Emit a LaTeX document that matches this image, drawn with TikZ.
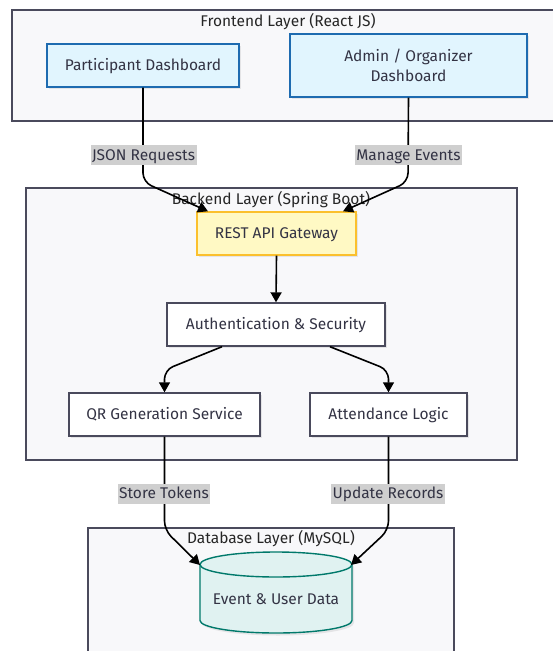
\documentclass[tikz,border=0pt]{standalone}
\usepackage{fontspec}
\setmainfont{Fira Sans}
\usetikzlibrary{arrows.meta,shadows}
\definecolor{grpfill}{HTML}{F8F8FA}
\definecolor{grpline}{HTML}{4A4A5C}
\definecolor{txt}{HTML}{333344}
\definecolor{bluefill}{HTML}{E1F5FE}
\definecolor{blueline}{HTML}{1E6BB0}
\definecolor{yelfill}{HTML}{FFF9C4}
\definecolor{yelline}{HTML}{FBC02D}
\definecolor{tealfill}{HTML}{E0F2F1}
\definecolor{tealline}{HTML}{00796B}
\definecolor{lblfill}{HTML}{CFCFCF}
\begin{document}
\begin{tikzpicture}[x=1pt,y=1pt,
  font=\fontsize{15.5}{20}\selectfont,
  grp/.style={draw=grpline, fill=grpfill, line width=1.5pt},
  grptitle/.style={text=black!85, inner sep=0pt, text height=12pt, text depth=1.5pt},
  box/.style={draw=grpline, fill=white, line width=1.4pt, inner sep=0pt, text=txt, align=center,
    drop shadow={shadow xshift=2pt, shadow yshift=-2pt, fill=black, opacity=0.08}},
  oneline/.style={text height=12pt, text depth=1.5pt},
  bluebox/.style={box, draw=blueline, fill=bluefill},
  yelbox/.style={box, draw=yelline, fill=yelfill},
  conn/.style={draw=black, line width=1.6pt, rounded corners=9pt, -{Triangle[length=10pt,width=11pt]}},
  lbl/.style={fill=lblfill, text=txt, inner xsep=1.5pt, inner ysep=0pt, text height=12pt, text depth=1.5pt, minimum height=20pt}
]
\useasboundingbox (0,0) rectangle (552,-651);

% group boxes
\draw[grp] (12,-10) rectangle (570,-121);
\node[grptitle] (fetitle) at (288,-21) {Frontend Layer (React JS)};
\draw[grp] (26,-188) rectangle (517,-460);
\draw[grp] (88,-528) rectangle (454,-670);

% nodes
\node[bluebox, oneline, minimum width=192pt, minimum height=43pt] (pd) at (143,-65.5) {Participant Dashboard};
\node[bluebox, minimum width=237pt, minimum height=63pt] (ad) at (408.5,-65.5) {\raisebox{-1pt}{Admin / Organizer}\\\raisebox{-1pt}{Dashboard}};
\node[yelbox, oneline, minimum width=159pt, minimum height=43pt] (rest) at (276.5,-233.5) {REST API Gateway};
\node[box, oneline, minimum width=218pt, minimum height=43pt] (auth) at (276,-324.5) {Authentication \& Security};
\node[box, oneline, minimum width=191pt, minimum height=43pt] (qr) at (164.5,-414.5) {QR Generation Service};
\node[box, oneline, minimum width=157pt, minimum height=43pt] (att) at (388.5,-414.5) {Attendance Logic};

% database cylinder
\fill[black, opacity=0.08] (202,-567) -- (202,-623) arc (180:360:76 and 12.5) -- (354,-567) arc (0:180:76 and 12.5) -- cycle;
\draw[tealline, fill=tealfill, line width=1.4pt] (200,-564.5) -- (200,-620.5) arc (180:360:76 and 12.5) -- (352,-564.5) arc (0:180:76 and 12.5) -- cycle;
\draw[tealline, line width=1.4pt] (200,-564.5) arc (180:360:76 and 12.5);
\node[text=txt, inner sep=0pt, oneline] (db) at (276,-599) {Event \& User Data};
\coordinate (dbl) at (200,-565);
\coordinate (dbr) at (351,-565);

% titles over lines
\node[grptitle] (betitle) at (271,-199) {Backend Layer (Spring Boot)};
\node[grptitle] (dbtitle) at (271,-538) {Database Layer (MySQL)};

% connectors
\draw[conn] (pd.south) -- (143,-182) -- ([xshift=-68.5pt]rest.north);
\draw[conn] (ad.south) -- (408,-182) -- ([xshift=66.5pt]rest.north);
\draw[conn] (rest.south) -- (auth.north);
\draw[conn] ([xshift=-54pt]auth.south) -- (164.5,-370) -- (qr.north);
\draw[conn] ([xshift=54pt]auth.south) -- (388.5,-370) -- (att.north);
\draw[conn] (qr.south) -- (164.5,-530) -- (dbl);
\draw[conn] (att.south) -- (388.5,-530) -- (dbr);

% labels
\node[lbl] (l1) at (143.5,-155) {JSON Requests};
\node[lbl] (l2) at (408.5,-155) {Manage Events};
\node[lbl] (l3) at (164,-493.5) {Store Tokens};
\node[lbl] (l4) at (388,-493.5) {Update Records};
\end{tikzpicture}
\end{document}
